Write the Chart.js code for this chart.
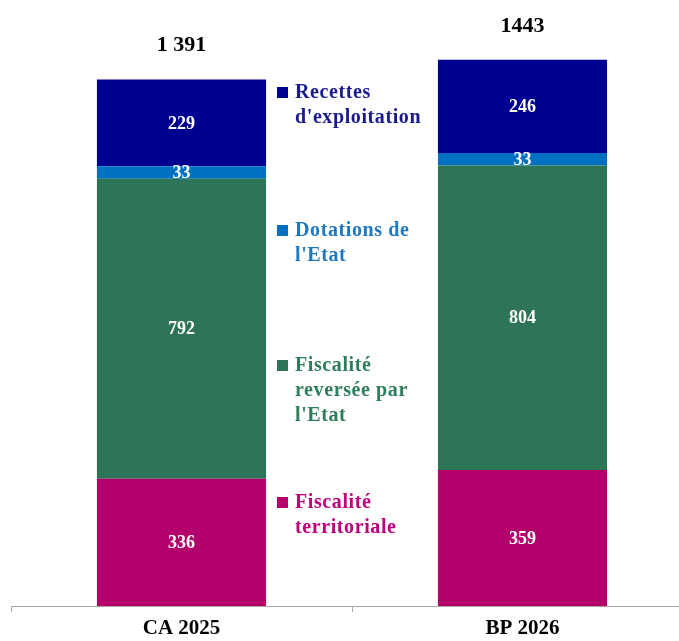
<!DOCTYPE html>
<html>
<head>
<meta charset="utf-8">
<script src="https://cdn.jsdelivr.net/npm/chart.js@4/dist/chart.umd.min.js"></script>
<style>
html,body{margin:0;padding:0;background:#fff;overflow:hidden;}
#wrap{position:relative;width:693px;height:641px;}
</style>
</head>
<body>
<div id="wrap"><canvas id="c" width="693" height="641"></canvas></div>
<script>
const categories = ["CA 2025", "BP 2026"];
const totalLabels = ["1 391", "1443"];
const seriesNames = ["Fiscalité territoriale", "Fiscalité reversée par l'Etat", "Dotations de l'Etat", "Recettes d'exploitation"];
const legendLines = [["Fiscalité", "territoriale"], ["Fiscalité", "reversée par", "l'Etat"], ["Dotations de", "l'Etat"], ["Recettes", "d'exploitation"]];
const fiscaliteTerritoriale = [336, 359];
const fiscaliteReversee = [792, 804];
const dotationsEtat = [33, 33];
const recettesExploitation = [229, 246];

const barColors = ["#B4006B", "#2E7558", "#0070C0", "#000090"];
const textColors = ["#C0007A", "#2E7D5B", "#1E78C0", "#1A1A8C"];
const legendTop = [503, 366, 231, 93];
const serif = "'Liberation Serif', 'DejaVu Serif', serif";

const valuePlugin = {
  id: 'values',
  afterDatasetsDraw(chart) {
    const ctx = chart.ctx;
    ctx.save();
    ctx.textAlign = 'center';
    ctx.textBaseline = 'middle';
    ctx.font = "bold 18px " + serif;
    ctx.fillStyle = '#ffffff';
    chart.data.datasets.forEach((ds, di) => {
      const meta = chart.getDatasetMeta(di);
      meta.data.forEach((el, i) => {
        const p = el.getProps(['x', 'y', 'base'], true);
        ctx.fillText(String(ds.data[i]), p.x, (p.y + p.base) / 2 + 1);
      });
    });
    // totals
    const lastMeta = chart.getDatasetMeta(chart.data.datasets.length - 1);
    ctx.fillStyle = '#000000';
    ctx.font = "bold 22px " + serif;
    lastMeta.data.forEach((el, i) => {
      const p = el.getProps(['x', 'y'], true);
      ctx.fillText(totalLabels[i], p.x, p.y - 34);
    });
    // legend
    ctx.textAlign = 'left';
    ctx.font = "bold 20px " + serif;
    if ('letterSpacing' in ctx) ctx.letterSpacing = '0.6px';
    seriesNames.forEach((name, k) => {
      const y0 = legendTop[k];
      ctx.fillStyle = barColors[k];
      ctx.fillRect(277, y0 - 6, 11, 11);
      ctx.fillStyle = textColors[k];
      legendLines[k].forEach((line, j) => {
        ctx.fillText(line, 295, y0 + j * 25);
      });
    });
    ctx.restore();
  }
};

const datasets = [fiscaliteTerritoriale, fiscaliteReversee, dotationsEtat, recettesExploitation].map((d, k) => ({
  label: seriesNames[k],
  data: d,
  backgroundColor: barColors[k],
  borderWidth: 0,
  barPercentage: 0.496,
  categoryPercentage: 1.0
}));

new Chart(document.getElementById('c'), {
  type: 'bar',
  data: { labels: categories, datasets },
  options: {
    responsive: false,
    animation: false,
    layout: { padding: { left: 11, right: 0, top: 0, bottom: 0 } },
    plugins: { legend: { display: false }, tooltip: { enabled: false } },
    scales: {
      x: {
        stacked: true,
        afterFit(scale) { scale.height = 35; },
        grid: { offset: true, drawOnChartArea: false, drawTicks: true, tickLength: 6, color: '#A6A6A6' },
        border: { display: true, color: '#A6A6A6', width: 1 },
        ticks: { color: '#000', font: { family: serif, size: 21, weight: 'bold', lineHeight: 1.0 }, padding: 6 }
      },
      y: { stacked: true, display: false, min: 0, max: 1600 }
    }
  },
  plugins: [valuePlugin]
});
</script>
</body>
</html>
